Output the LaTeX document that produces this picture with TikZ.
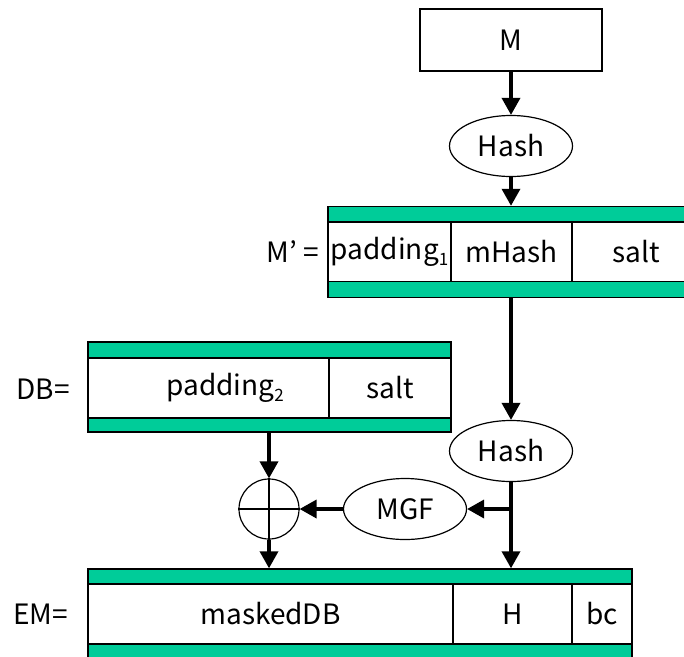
\documentclass[tikz,border=0pt]{standalone}
\usepackage{fontspec}
\setmainfont{Noto Sans CJK JP}
\usetikzlibrary{positioning,arrows.meta,shapes.geometric}
\definecolor{bandgreen}{HTML}{00CC99}
\newcommand\lowsub[1]{\raisebox{-6pt}{\fontsize{17}{20}\selectfont#1}}
\tikzset{
  txt/.style={font=\fontsize{28}{32}\selectfont},
  fld/.style={txt,draw,line width=1.2pt,minimum height=60pt,inner sep=0pt},
  band/.style={draw,fill=bandgreen,line width=1.4pt,minimum height=15pt,inner sep=0pt},
  hsh/.style={txt,ellipse,draw,line width=1.2pt,minimum width=123pt,minimum height=61pt,inner sep=0pt},
  xorc/.style={circle,draw,line width=1.2pt,minimum size=60pt,inner sep=0pt},
  flow/.style={-{Triangle[length=17pt,width=18pt]},line width=3.5pt},
  lbl/.style={txt,anchor=east,inner sep=0pt},
}
\begin{document}
\begin{tikzpicture}[x=1pt,y=-1pt]
  \useasboundingbox (0,0) rectangle (684,656);
  % message and first hash
  \node[fld,minimum width=182pt,minimum height=62pt] (msg) at (511,40) {M};
  \node[hsh] (hash1) at (511,146) {Hash};
  % M' = padding1 | mHash | salt
  \node[band,minimum width=372pt] (mpTop) at (514,214) {};
  \node[fld,minimum width=123pt] (pad1) at (389.5,252) {padding\lowsub{1}};
  \node[fld,minimum width=121pt] (mhash) at (511.5,252) {mHash};
  \node[fld,minimum width=128pt] (msalt) at (636,252) {salt};
  \node[band,minimum width=372pt,minimum height=16pt] (mpBot) at (514,289.5) {};
  \node[lbl] (mpLbl) at (319,252) {M’ =};
  % DB = padding2 | salt
  \node[band,minimum width=363pt,minimum height=16pt] (dbTop) at (269.5,350) {};
  \node[fld,minimum width=241pt] (pad2) at (208.5,388) {};
  \node[txt] (pad2txt) at (225,388) {padding\lowsub{2}};
  \node[fld,minimum width=122pt] (dsalt) at (390,388) {salt};
  \node[band,minimum width=363pt,minimum height=14pt] (dbBot) at (269.5,425) {};
  \node[lbl] (dbLbl) at (70,389) {DB=};
  % second hash, MGF and xor
  \node[hsh] (hash2) at (511,451) {Hash};
  \node[hsh] (mgf) at (405,509) {MGF};
  \node[xorc] (xor) at (269,509) {};
  \draw[line width=1.2pt] (xor.north) -- (xor.south) (xor.west) -- (xor.east);
  % EM = maskedDB | H | bc
  \node[band,minimum width=544pt] (emTop) at (360,576.5) {};
  \node[fld,minimum width=365pt] (mdb) at (270.5,614) {maskedDB};
  \node[fld,minimum width=119pt] (hcell) at (512.5,614) {H};
  \node[fld,minimum width=60pt] (bc) at (602,614) {bc};
  \node[band,minimum width=544pt,minimum height=16pt] (emBot) at (360,652) {};
  \node[lbl] (emLbl) at (68,614) {EM=};
  % flow
  \coordinate (split) at (hash2 |- mgf);
  \draw[flow] (msg) -- (hash1);
  \draw[flow] (hash1) -- (hash1 |- mpTop.north);
  \draw[flow] (hash1 |- mpBot.south) -- (hash2);
  \draw[flow] (hash2) -- (hash2 |- emTop.north);
  \draw[flow] (split) -- (mgf);
  \draw[flow] (mgf) -- (xor);
  \draw[flow] (xor |- dbBot.south) -- (xor);
  \draw[flow] (xor) -- (xor |- emTop.north);
\end{tikzpicture}
\end{document}
